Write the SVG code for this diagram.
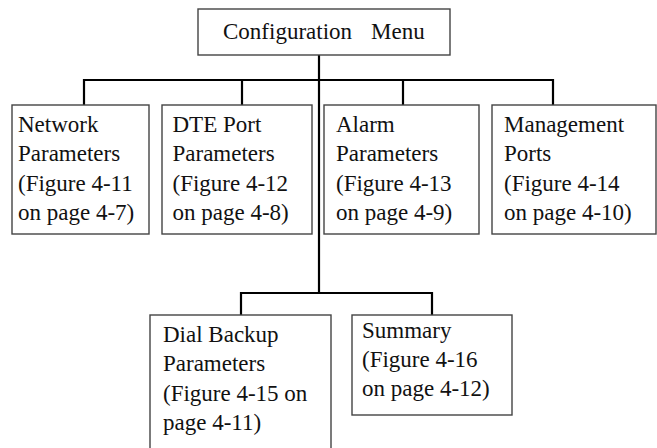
<svg xmlns="http://www.w3.org/2000/svg" width="657" height="448" viewBox="0 0 657 448">
<style>
.box{fill:#fff;stroke:#444;stroke-width:1.4}
.t{font-family:"Liberation Serif","Times New Roman",serif;font-size:23px;fill:#111}
.c{fill:none;stroke:#000;stroke-width:2.2}
</style>
<rect width="657" height="448" fill="#fff"/>
<g id="connectors" class="c">
<path d="M319 55V293"/>
<path d="M84 105V80H553V105"/>
<path d="M242 80V105"/>
<path d="M403 80V105"/>
<path d="M241 315V293H432V315"/>
</g>
<g id="config-menu">
<rect class="box" x="198" y="9" width="252" height="46"/>
<text class="t" x="223" y="39">Configuration <tspan x="371">Menu</tspan></text>
</g>
<g id="network">
<rect class="box" x="12" y="105" width="137" height="129"/>
<text class="t" x="18" y="131.5">Network<tspan x="18" y="161">Parameters</tspan><tspan x="18" y="190.5">(Figure 4-11</tspan><tspan x="18" y="220">on page 4-7)</tspan></text>
</g>
<g id="dte">
<rect class="box" x="162" y="105" width="150" height="129"/>
<text class="t" x="172.5" y="131.5">DTE Port<tspan x="172.5" y="161">Parameters</tspan><tspan x="172.5" y="190.5">(Figure 4-12</tspan><tspan x="172.5" y="220">on page 4-8)</tspan></text>
</g>
<g id="alarm">
<rect class="box" x="324" y="105" width="155" height="129"/>
<text class="t" x="336" y="131.5">Alarm<tspan x="336" y="161">Parameters</tspan><tspan x="336" y="190.5">(Figure 4-13</tspan><tspan x="336" y="220">on page 4-9)</tspan></text>
</g>
<g id="management">
<rect class="box" x="492" y="105" width="164" height="129"/>
<text class="t" x="504" y="131.5">Management<tspan x="504" y="161">Ports</tspan><tspan x="504" y="190.5">(Figure 4-14</tspan><tspan x="504" y="220">on page 4-10)</tspan></text>
</g>
<g id="dial-backup">
<rect class="box" x="150" y="315" width="181" height="140"/>
<text class="t" x="163" y="341.5">Dial Backup<tspan x="163" y="371">Parameters</tspan><tspan x="163" y="400.5">(Figure 4-15 on</tspan><tspan x="163" y="430">page 4-11)</tspan></text>
</g>
<g id="summary">
<rect class="box" x="352" y="315" width="160" height="100"/>
<text class="t" x="362" y="338">Summary<tspan x="362" y="367">(Figure 4-16</tspan><tspan x="362" y="396">on page 4-12)</tspan></text>
</g>
</svg>
